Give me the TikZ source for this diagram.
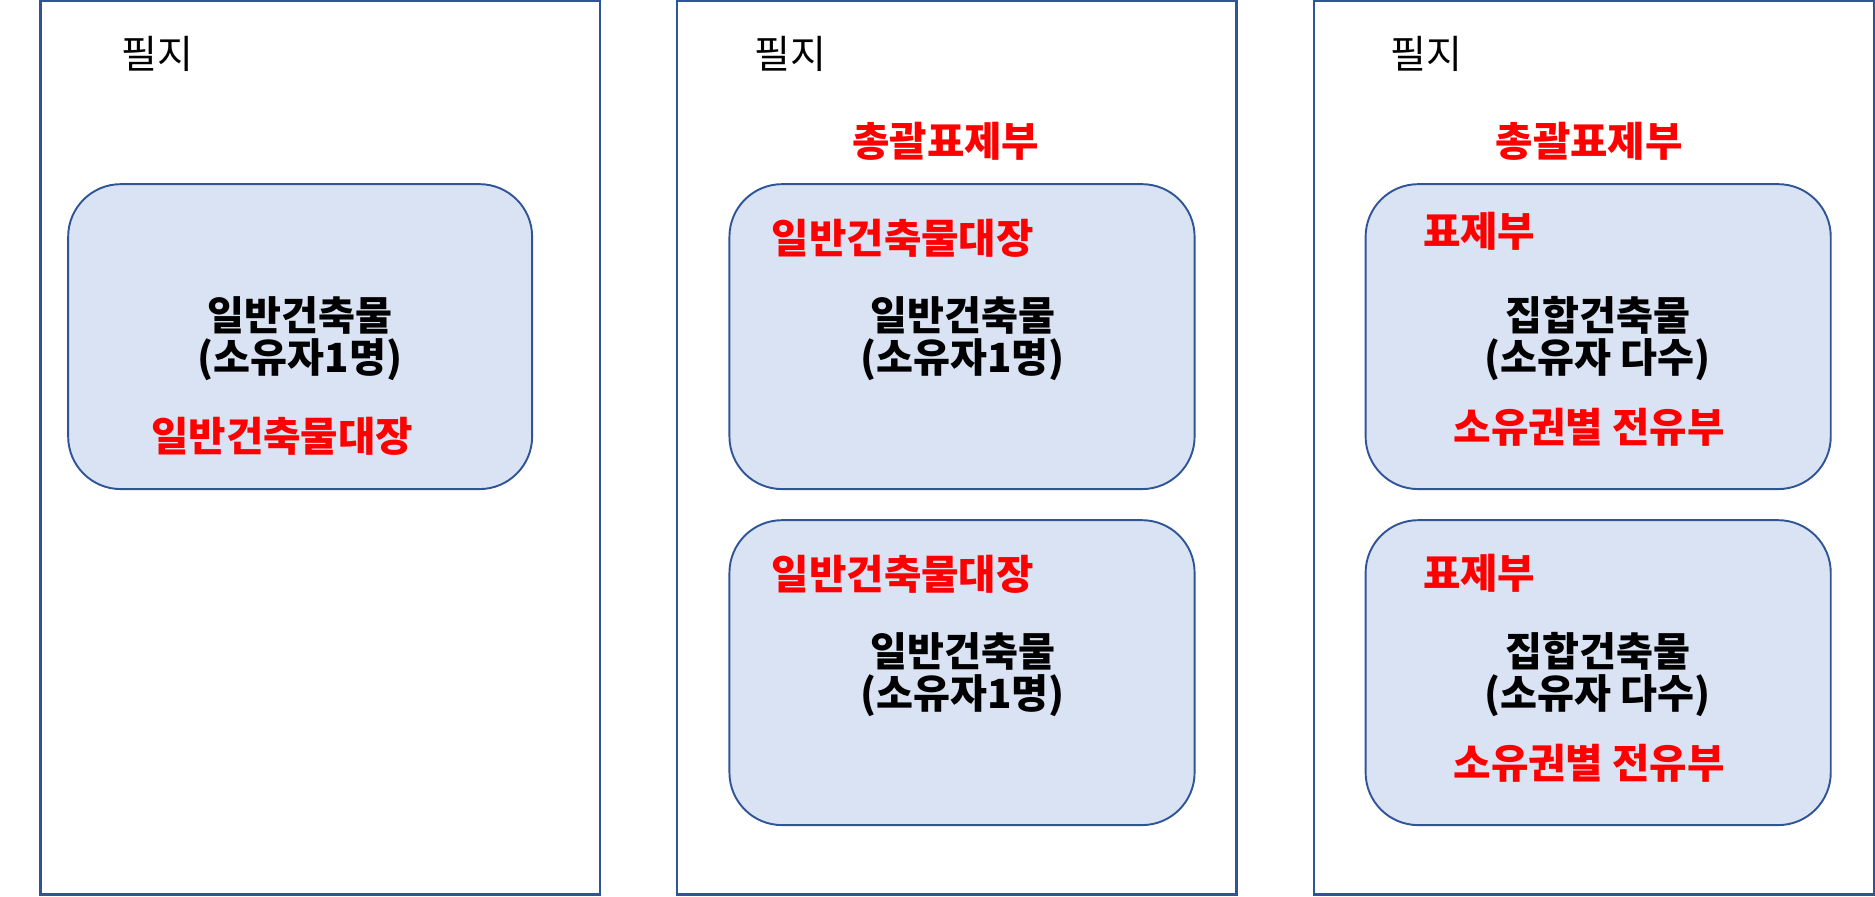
\documentclass[tikz,border=0pt]{standalone}
\usepackage{fontspec}
\setmainfont{Noto Sans CJK KR}
\newfontfamily\kr{Noto Sans CJK KR}
\definecolor{edgeblue}{HTML}{2F5597}
\definecolor{boxfill}{HTML}{DAE3F3}
\definecolor{redtxt}{HTML}{FF0000}
\begin{document}
\begin{tikzpicture}[x=0.5pt,y=-0.5pt,
  panel/.style={draw=edgeblue,line width=1pt},
  bldg/.style={draw=edgeblue,fill=boxfill,line width=0.8pt,rounded corners=22pt},
  lot/.style={font=\kr\fontsize{16.3}{19}\selectfont,inner sep=0pt},
  blk/.style={font=\kr\bfseries\fontsize{16.8}{17.5}\selectfont,align=center,inner sep=0pt},
  red/.style={font=\kr\bfseries\fontsize{17}{19}\selectfont,text=redtxt,inner sep=0pt}]
\useasboundingbox (0,0) rectangle (1568,750);
% panels
\draw[panel] (34,1) rectangle (502,748);
\draw[panel] (566,1) rectangle (1034,748);
\draw[panel] (1099,1) rectangle (1567,748);
% building boxes
\draw[bldg] (57,154) rectangle (445,409);
\draw[bldg] (610,154) rectangle (999,409);
\draw[bldg] (610,435) rectangle (999,690);
\draw[bldg] (1142,154) rectangle (1531,409);
\draw[bldg] (1142,435) rectangle (1531,690);
% panel 1
\node[lot] (lot1) at (132,45) {필지};
\node[blk] (b1) at (251,283) {일반건축물\\(소유자1명)};
\node[red] (r1) at (236,365) {일반건축물대장};
% panel 2
\node[lot] (lot2) at (661,45) {필지};
\node[red] (t2) at (791,118) {총괄표제부};
\node[red] (r2a) at (755,199) {일반건축물대장};
\node[blk] (b2a) at (805,283) {일반건축물\\(소유자1명)};
\node[red] (r2b) at (755,480) {일반건축물대장};
\node[blk] (b2b) at (805,564) {일반건축물\\(소유자1명)};
% panel 3
\node[lot] (lot3) at (1193,45) {필지};
\node[red] (t3) at (1329,118) {총괄표제부};
\node[red] (r3a) at (1237,193) {표제부};
\node[blk] (b3a) at (1336,283) {집합건축물\\(소유자 다수)};
\node[red] (s3a) at (1329,357) {소유권별 전유부};
\node[red] (r3b) at (1237,479) {표제부};
\node[blk] (b3b) at (1336,564) {집합건축물\\(소유자 다수)};
\node[red] (s3b) at (1329,638) {소유권별 전유부};
\end{tikzpicture}
\end{document}
